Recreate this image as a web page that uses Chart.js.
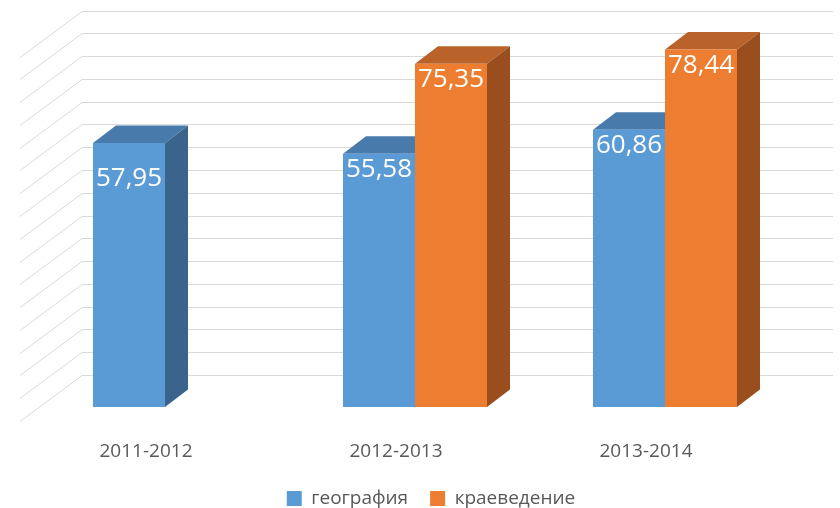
<!DOCTYPE html>
<html lang="ru">
<head>
<meta charset="utf-8">
<title>география / краеведение</title>
<script src="https://cdn.jsdelivr.net/npm/chart.js@4.4.0/dist/chart.umd.min.js"></script>
<style>
  html, body { margin: 0; padding: 0; background: #fff; }
</style>
</head>
<body>
<canvas id="chart" width="840" height="508"></canvas>

<script>
// данные
const years = ['2011-2012', '2012-2013', '2013-2014'];
const geography = [57.95, 55.58, 60.86];
const localHistory = [null, 75.35, 78.44];
const yMax = 80;
const yStep = 5;

// оттенки граней (верх, бок)
const faceColors = [
  { top: '#487aab', side: '#3b648c' },
  { top: '#b9632b', side: '#9b4e1d' }
];
const DX = 23, DY = -17.5;
const PLOT_BOTTOM = 407;
// подпись первого столбика в оригинале опущена ниже
const labelNudge = { '0-0': 20 };

const box3d = {
  id: 'box3d',
  afterLayout(chart) {
    // легенда в оригинале чуть правее центра
    chart.legend.left += 16;
    chart.legend.right += 16;
  },
  beforeDatasetsDraw(chart) {
    const ctx = chart.ctx;
    const a = chart.chartArea;
    const y = chart.scales.y;
    ctx.save();
    // задняя и боковая стенки
    ctx.strokeStyle = '#d9d9d9';
    ctx.lineWidth = 1;
    y.ticks.forEach(t => {
      const yy = Math.round(y.getPixelForValue(t.value)) + 0.5;
      ctx.beginPath();
      ctx.moveTo(a.left - 20, yy + 14);
      ctx.lineTo(a.left + 42, yy - 32);
      ctx.lineTo(a.right + 43, yy - 32);
      ctx.stroke();
    });
    // верх и бок столбиков
    chart.data.datasets.forEach((ds, i) => {
      const meta = chart.getDatasetMeta(i);
      const c = faceColors[i];
      meta.data.forEach((bar, j) => {
        if (ds.data[j] == null) return;
        const p = bar.getProps(['x', 'y', 'base', 'width'], true);
        const l = p.x - p.width / 2, r = p.x + p.width / 2;
        ctx.fillStyle = c.top;
        ctx.beginPath();
        ctx.moveTo(l, p.y);
        ctx.lineTo(l + DX, p.y + DY);
        ctx.lineTo(r + DX, p.y + DY);
        ctx.lineTo(r, p.y);
        ctx.closePath();
        ctx.fill();
        ctx.fillStyle = c.side;
        ctx.beginPath();
        ctx.moveTo(r, p.y);
        ctx.lineTo(r + DX, p.y + DY);
        ctx.lineTo(r + DX, p.base + DY);
        ctx.lineTo(r, p.base);
        ctx.closePath();
        ctx.fill();
      });
    });
    ctx.restore();
  },
  afterDatasetsDraw(chart) {
    const ctx = chart.ctx;
    ctx.save();
    ctx.fillStyle = '#ffffff';
    ctx.font = '26px "Open Sans", sans-serif';
    ctx.textAlign = 'center';
    ctx.textBaseline = 'middle';
    chart.data.datasets.forEach((ds, i) => {
      chart.getDatasetMeta(i).data.forEach((bar, j) => {
        const v = ds.data[j];
        if (v == null) return;
        const off = 16 + (labelNudge[i + '-' + j] || 0);
        ctx.fillText(v.toFixed(2).replace('.', ','), bar.x, bar.y + off);
      });
    });
    ctx.restore();
  }
};

new Chart(document.getElementById('chart'), {
  type: 'bar',
  data: {
    labels: years,
    datasets: [
      {
        label: 'география',
        data: geography,
        backgroundColor: '#5b9bd5',
        borderWidth: 0,
        categoryPercentage: 0.576,
        barPercentage: 1
      },
      {
        label: 'краеведение',
        data: localHistory,
        backgroundColor: '#ed7d31',
        borderWidth: 0,
        categoryPercentage: 0.576,
        barPercentage: 1
      }
    ]
  },
  options: {
    responsive: false,
    animation: false,
    layout: { padding: { left: 40, right: 50, top: 42.5, bottom: -10 } },
    scales: {
      y: {
        min: 0,
        max: yMax,
        ticks: { stepSize: yStep },
        display: false
      },
      x: {
        grid: { display: false },
        border: { display: false },
        ticks: {
          color: '#595959',
          font: { family: 'Open Sans', size: 19 },
          padding: 25,
          labelOffset: -19
        },
        afterFit(scale) {
          // фиксируем нижнюю границу области построения
          scale.height = 518 - scale.chart.legend.height - PLOT_BOTTOM;
        }
      }
    },
    plugins: {
      legend: {
        position: 'bottom',
        labels: {
          color: '#595959',
          font: { family: 'Open Sans', size: 19 },
          boxWidth: 15,
          boxHeight: 15,
          padding: 22
        }
      },
      tooltip: { enabled: false }
    }
  },
  plugins: [box3d]
});
</script>
</body>
</html>
